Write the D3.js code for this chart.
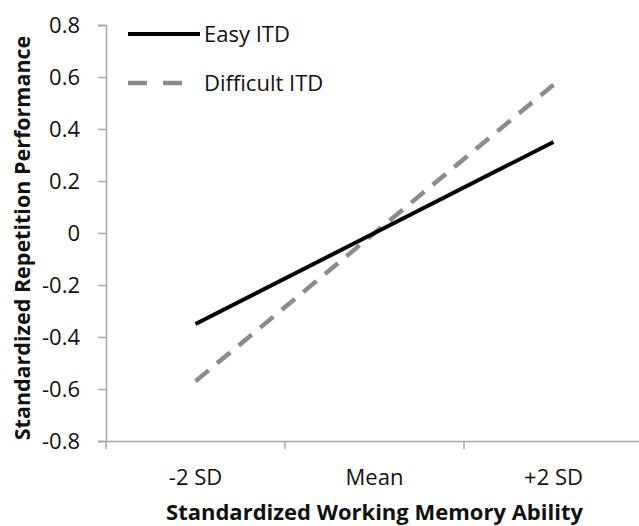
<!DOCTYPE html>
<html>
<head>
<meta charset="utf-8">
<script src="https://cdn.jsdelivr.net/npm/d3@7"></script>
<style>
  body { margin: 0; background: #fff; }
  text { font-family: "Open Sans", Lato, sans-serif; fill: #111; }
</style>
</head>
<body>
<svg id="chart" width="639" height="526"></svg>
<script>
var categories = ["-2 SD", "Mean", "+2 SD"];
var easyValues = [-0.35, 0, 0.35];
var difficultValues = [-0.57, 0, 0.57];
var yTicks = [-0.8, -0.6, -0.4, -0.2, 0, 0.2, 0.4, 0.6, 0.8];
var seriesNames = ["Easy ITD", "Difficult ITD"];

var svg = d3.select("#chart");
var plotLeft = 106, plotRight = 643, plotTop = 25, plotBottom = 441;

var x = d3.scaleBand().domain(categories).range([plotLeft, plotRight]);
var y = d3.scaleLinear().domain([-0.8, 0.8]).range([plotBottom, plotTop]);

var axisColor = "#a6a6a6";

// y axis (plain hyphen like the original)
var yAxis = svg.append("g")
  .attr("transform", "translate(" + plotLeft + ",0)")
  .call(d3.axisLeft(y).tickValues(yTicks).tickSize(8).tickPadding(18)
    .tickFormat(function(d){ return d === 0 ? "0" : d.toFixed(1); }));
yAxis.select(".domain").attr("stroke", axisColor).attr("stroke-width", 1.5);
yAxis.selectAll(".tick line").attr("stroke", axisColor).attr("stroke-width", 1.5);
yAxis.selectAll(".tick text").style("font-size", "22px").attr("fill", "#111");

// x axis: ticks at category boundaries
var xAxis = svg.append("g")
  .attr("transform", "translate(0," + plotBottom + ")")
  .call(d3.axisBottom(x).tickSize(0).tickPadding(28));
xAxis.select(".domain").attr("stroke", axisColor).attr("stroke-width", 1.5);
xAxis.selectAll(".tick text").style("font-size", "22px").attr("fill", "#111");
xAxis.selectAll(".bound")
  .data(categories)
  .enter().append("line")
  .attr("x1", function(d){ return x(d); })
  .attr("x2", function(d){ return x(d); })
  .attr("y1", 0).attr("y2", 8)
  .attr("stroke", axisColor).attr("stroke-width", 1.5);

// lines
var line = d3.line()
  .x(function(d, i){ return x(categories[i]) + x.bandwidth() / 2; })
  .y(function(d){ return y(d); });

svg.append("path")
  .datum(difficultValues)
  .attr("d", line)
  .attr("fill", "none")
  .attr("stroke", "#8c8c8c")
  .attr("stroke-width", 4.5)
  .attr("stroke-dasharray", "17,11");

svg.append("path")
  .datum(easyValues)
  .attr("d", line)
  .attr("fill", "none")
  .attr("stroke", "#000")
  .attr("stroke-width", 4);

// legend
var legend = svg.append("g");
legend.append("line")
  .attr("x1", 128).attr("x2", 200).attr("y1", 34).attr("y2", 34)
  .attr("stroke", "#000").attr("stroke-width", 4);
legend.append("line")
  .attr("x1", 128).attr("x2", 186).attr("y1", 83).attr("y2", 83)
  .attr("stroke", "#8c8c8c").attr("stroke-width", 4.5)
  .attr("stroke-dasharray", "19,16");
legend.selectAll(".lt")
  .data(seriesNames)
  .enter().append("text")
  .attr("x", 204)
  .attr("y", function(d, i){ return 34 + i * 49; })
  .attr("dy", "0.35em")
  .style("font-size", "22px")
  .text(function(d){ return d; });

// axis titles
svg.append("text")
  .attr("x", x("Mean") + x.bandwidth() / 2)
  .attr("y", 520)
  .attr("text-anchor", "middle")
  .style("font-size", "22px")
  .style("font-weight", "bold")
  .text("Standardized Working Memory Ability");

svg.append("text")
  .attr("transform", "translate(30,238) rotate(-90)")
  .attr("text-anchor", "middle")
  .style("font-size", "21.5px")
  .style("font-weight", "bold")
  .text("Standardized Repetition Performance");
</script>
</body>
</html>
